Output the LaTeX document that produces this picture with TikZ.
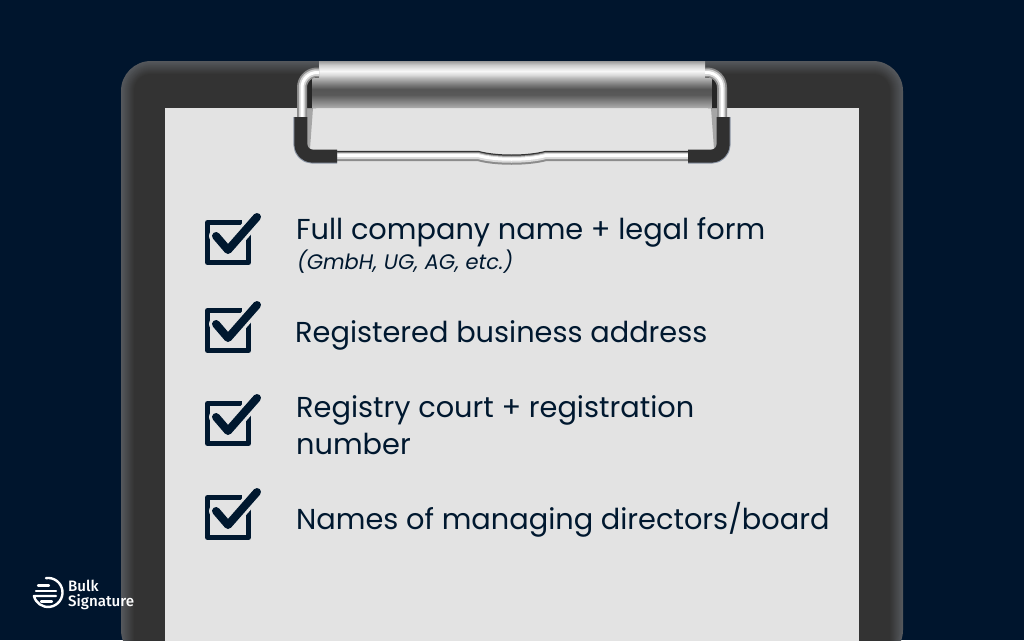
\documentclass[tikz,border=0pt]{standalone}
\usepackage{fontspec}
\setmainfont{Poppins}
\newfontfamily\logofont{Fira Sans Medium}
\definecolor{navy}{HTML}{00152D}
\definecolor{ink}{HTML}{00182F}
\definecolor{paper}{HTML}{E3E3E3}
\definecolor{board}{HTML}{333333}
\definecolor{boardedge}{HTML}{55585C}
\definecolor{sleeve}{HTML}{303030}
\definecolor{halo}{HTML}{8A94A3}
\pgfdeclareverticalshading{barshade}{100bp}{
 color(0bp)=(black!32!white);
 color(25bp)=(black!32!white);
 color(39bp)=(black!65!white);
 color(45bp)=(black!67!white);
 color(50.5bp)=(black!50!white);
 color(57bp)=(black!28!white);
 color(60bp)=(black!15!white);
 color(64.4bp)=(black!3!white);
 color(70.7bp)=(black!20!white);
 color(75bp)=(black!40!white);
 color(100bp)=(black!40!white)}
\tikzset{
 x=1pt,y=-1pt,
 itemtext/.style={anchor=base west,inner sep=0pt,text=ink,font=\fontsize{28.8}{37}\selectfont,align=left},
 subtext/.style={anchor=base west,inner sep=0pt,text=ink,font=\fontsize{21}{26}\selectfont\itshape},
 logotext/.style={anchor=base west,inner sep=0pt,text=white,font=\logofont\fontsize{15.1}{16}\selectfont},
 wirepath/.style={line cap=butt,line join=round},
 checkicon/.pic={
  \draw[ink,line width=5pt,line join=round] (242,222.5) -- (207.5,222.5) -- (207.5,262.5) -- (248.5,262.5) -- (248.5,232);
  \draw[paper,line width=14pt,line cap=round,line join=round] (216,236) -- (228,250) -- (257,217);
  \draw[ink,line width=8pt,line cap=round,line join=round] (216,236) -- (228,250) -- (257,217);
 }
}
\begin{document}
\begin{tikzpicture}
\useasboundingbox (0,0) rectangle (1024,640);
\fill[navy] (0,0) rectangle (1024,640);
% board with soft bevelled edge
\begin{scope}
\clip (0,0) rectangle (1024,640);
\foreach \i in {0,...,13}{
 \pgfmathsetmacro{\mixv}{100-\i*100/13}
 \pgfmathsetmacro{\rad}{30-\i}
 \fill[boardedge!\mixv!board,rounded corners=\rad pt] (121+\i,61+\i) rectangle (903-\i,660);
}
% paper
\fill[paper] (165,108) rectangle (859,660);
\end{scope}
% shadows under the clip
\fill[black!35!white] (307,108) -- (313,108) -- (310,149) -- (307,149) -- cycle;
\fill[black!35!white] (717,108) -- (711,108) -- (714,149) -- (717,149) -- cycle;
% dark inside of the clip arms
\draw[black!85!white,line width=10pt] (322,83) -- (317,83) arc[start angle=90,end angle=180,radius=6] -- (311,108);
\draw[black!85!white,line width=10pt] (702,83) -- (707,83) arc[start angle=90,end angle=0,radius=6] -- (713,108);
% bar
\path[shading=barshade] (319,61) -- (705,61) -- (705,78) -- (712,78) -- (712,108) -- (312,108) -- (312,78) -- (319,78) -- cycle;
% upper wire arms
\foreach \wc/\ww in {black!45!white/10,black!18!white/6.5,white/3}{
 \draw[\wc,line width=\ww pt,wirepath,rounded corners=15pt] (319,72.5) -- (302,72.5) -- (302,118);
 \draw[\wc,line width=\ww pt,wirepath,rounded corners=15pt] (705,72.5) -- (722,72.5) -- (722,118);
}
% lower wire with its dip
\draw[black!80!white,line width=2.5pt,wirepath] (330,152) -- (478,152) .. controls (495,157) and (528,157) .. (546,152) -- (694,152);
\draw[black!45!white,line width=9pt,wirepath] (330,156.5) -- (478,156.5) .. controls (495,161.5) and (528,161.5) .. (546,156.5) -- (694,156.5);
\draw[black!15!white,line width=6pt,wirepath] (330,156) -- (478,156) .. controls (495,161) and (528,161) .. (546,156) -- (694,156);
\draw[white,line width=3pt,wirepath] (330,155.5) -- (478,155.5) .. controls (495,160.5) and (528,160.5) .. (546,155.5) -- (694,155.5);
% sleeves
\draw[halo,line width=13.5pt,wirepath,rounded corners=12pt] (300.2,117) -- (300.2,156.8) -- (337,156.8);
\draw[halo,line width=13.5pt,wirepath,rounded corners=12pt] (723.8,117) -- (723.8,156.8) -- (688,156.8);
\draw[sleeve,line width=13pt,wirepath,rounded corners=12pt] (300.8,117) -- (300.8,156.2) -- (337,156.2);
\draw[sleeve,line width=13pt,wirepath,rounded corners=12pt] (723.2,117) -- (723.2,156.2) -- (688,156.2);
% checkboxes
\pic (chk1) at (0,0) {checkicon};
\pic (chk2) at (0,88) {checkicon};
\pic (chk3) at (0,181) {checkicon};
\pic (chk4) at (0,275) {checkicon};
% texts
\node[itemtext] (t1) at (296,239) {Full company name + legal form};
\node[subtext] (t1b) at (297,269) {(GmbH, UG, AG, etc.)};
\node[itemtext] (t2) at (295,342) {Registered business address};
\node[itemtext] (t3) at (296,417) {Registry court + registration};
\node[itemtext] (t3b) at (296,454) {number};
\node[itemtext] (t4) at (296,529) {Names of managing directors/board};
% logo
\draw[white,line width=2.4pt,line cap=round,line join=round] (46,578.1) arc[start angle=-98,end angle=166,radius=14.5] -- (56,596);
\draw[white,line width=2.2pt,line cap=round] (38,585.5) -- (49,585.5);
\draw[white,line width=2.2pt,line cap=round] (36,591) -- (56,591);
\draw[white,line width=2.2pt,line cap=round] (41,601.5) -- (52,601.5);
\node[logotext] (l1) at (68,591) {Bulk};
\node[logotext] (l2) at (68,606) {Signature};
\end{tikzpicture}
\end{document}
